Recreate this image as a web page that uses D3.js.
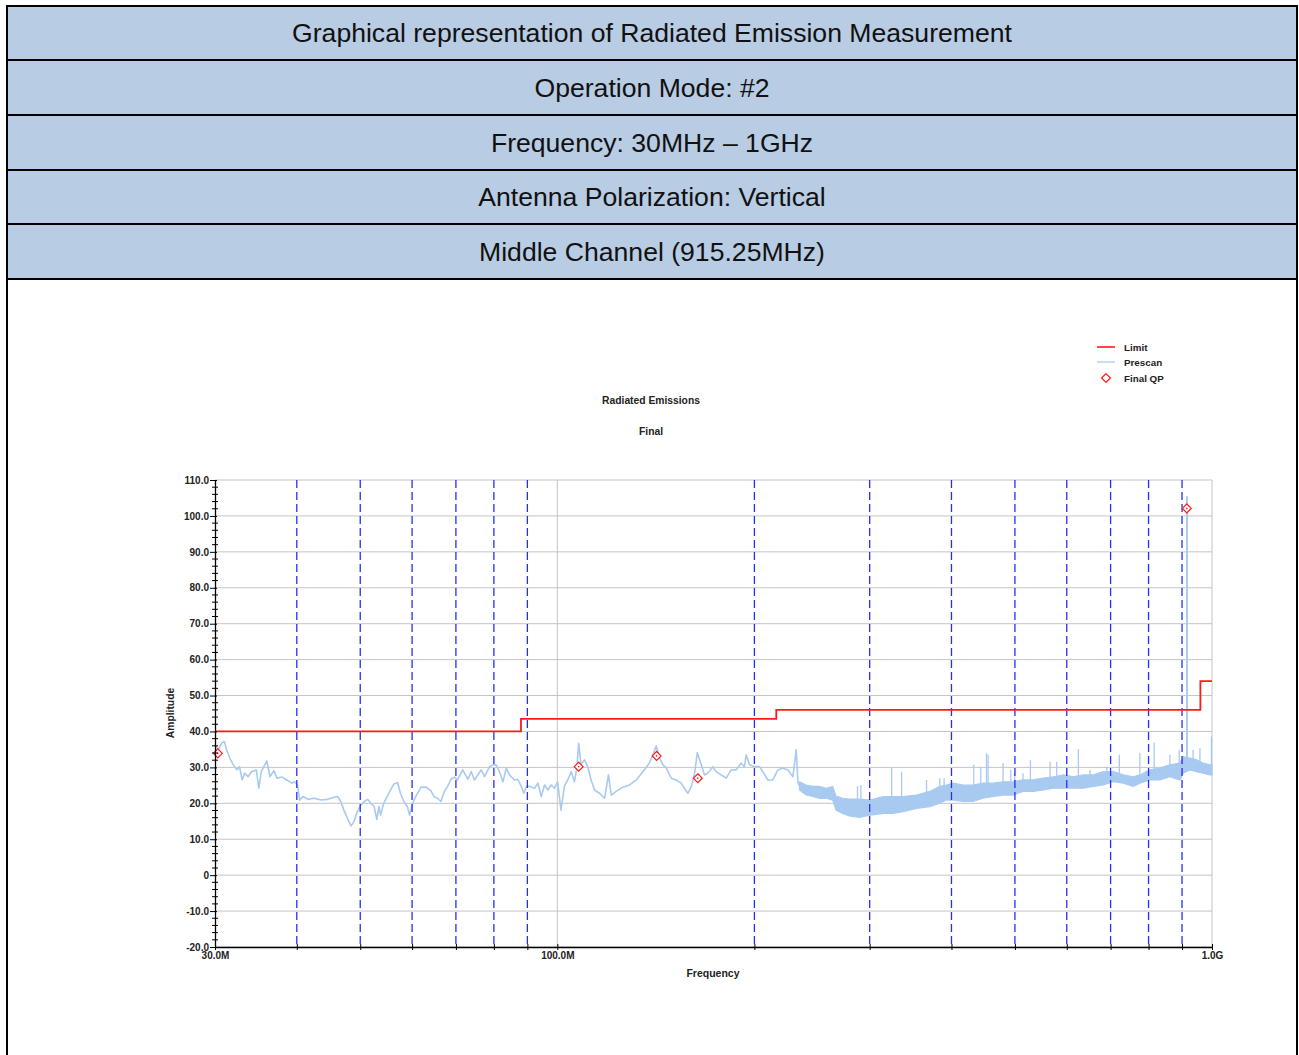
<!DOCTYPE html>
<html>
<head>
<meta charset="utf-8">
<script src="https://cdn.jsdelivr.net/npm/d3@7"></script>
<style>
  body { margin: 0; background: #fff; }
  svg { display: block; }
  text { font-family: "Liberation Sans", Arial, sans-serif; }
</style>
</head>
<body>
<svg id="chart" width="1299" height="1055"></svg>
<script>
// ---- header rows ----
const headerLines = [
  "Graphical representation of Radiated Emission Measurement",
  "Operation Mode: #2",
  "Frequency: 30MHz \u2013 1GHz",
  "Antenna Polarization: Vertical",
  "Middle Channel (915.25MHz)"
];

// ---- axis ticks ----
const yTickValues = [-20, -10, 0, 10, 20, 30, 40, 50, 60, 70, 80, 90, 100, 110];
const yTickLabels = ["-20.0", "-10.0", "0", "10.0", "20.0", "30.0", "40.0", "50.0", "60.0", "70.0", "80.0", "90.0", "100.0", "110.0"];
const xDashedMHz = [40, 50, 60, 70, 80, 90, 200, 300, 400, 500, 600, 700, 800, 900];
const xLabelMHz = [30, 100, 1000];
const xLabelText = ["30.0M", "100.0M", "1.0G"];

// ---- limit line (MHz, dBuV/m), step after each point ----
const limitMHz = [30, 88, 216, 960, 1000];
const limitDb  = [40, 43.5, 46, 54, 54];

// ---- final quasi-peak results ----
const qpMHz = [30.3, 107.8, 141.8, 163.9, 915.25];
const qpDb  = [33.9, 30.2, 33.2, 27.0, 102.1];

// ---- prescan: single trace below ~234 MHz ----
const prescanTrace = [
  [30.0,36.3],[30.35,34.9],[30.7,36.7],[31.0,37.2],[31.25,34.9],[31.6,32.6],[32.0,30.7],[32.4,29.3],[32.7,30.2],[33.0,26.5],
  [33.3,28.4],[33.7,27.4],[34.1,28.8],[34.7,29.3],[35.0,24.2],[35.3,28.8],[36.0,31.8],[36.4,27.4],[36.9,29.1],[37.3,27.0],
  [38.0,27.3],[38.6,26.5],[39.3,25.6],[39.7,26.0],[40.1,25.1],[40.4,20.9],[40.9,21.9],[41.6,21.1],[42.5,21.4],[43.6,20.9],
  [44.6,21.1],[45.6,21.7],[46.2,21.9],[46.7,20.5],[47.2,18.1],[47.8,15.8],[48.4,13.7],[48.9,14.9],[49.5,17.7],[50.1,19.5],
  [50.7,20.5],[51.3,21.1],[51.9,20.0],[52.5,19.1],[53.0,15.5],[53.4,19.1],[53.7,16.7],[54.3,20.0],[55.0,21.9],[55.6,23.7],
  [56.3,25.4],[57.0,25.8],[57.6,22.8],[58.3,20.5],[59.0,19.1],[59.5,16.7],[60.1,20.0],[60.8,21.9],[61.9,24.5],[63.0,24.5],
  [64.1,23.5],[64.8,21.9],[65.6,21.4],[66.4,20.5],[67.2,23.3],[68.0,24.7],[68.8,26.7],[69.6,27.3],[70.4,26.5],[71.7,29.3],
  [73.0,26.7],[73.9,28.8],[74.7,26.5],[75.6,27.9],[76.5,29.3],[77.4,27.4],[78.8,30.2],[79.7,30.7],[80.6,30.7],[81.6,28.8],
  [82.6,26.0],[83.6,29.8],[84.5,27.9],[86.0,26.5],[87.0,26.7],[88.1,24.7],[88.9,22.8],[89.7,24.7],[90.8,24.7],[92.3,24.2],
  [93.4,25.6],[94.5,21.9],[95.6,25.1],[96.7,23.7],[97.8,25.1],[99.0,24.2],[100.1,26.0],[101.3,18.1],[102.5,24.7],[103.7,26.5],
  [105.0,28.8],[106.2,26.0],[107.1,29.8],[107.8,36.7],[108.7,30.7],[110.0,32.1],[111.3,30.2],[112.6,26.5],[114.0,23.7],[116.0,22.8],
  [118.1,21.4],[119.7,27.9],[120.9,22.3],[123.0,23.3],[125.9,24.5],[129.0,25.1],[132.0,26.5],[135.1,28.8],[138.3,31.2],[140.3,34.0],
  [141.6,36.0],[143.3,32.6],[145.0,30.7],[146.7,29.8],[149.3,27.0],[151.9,26.5],[154.6,25.6],[156.4,24.2],[158.3,22.8],[160.2,24.7],
  [162.1,28.4],[163.6,34.1],[165.9,30.7],[167.8,27.9],[169.8,28.4],[172.8,30.2],[174.9,28.8],[177.9,27.9],[181.1,27.0],[184.3,29.3],
  [187.6,29.3],[190.9,31.2],[193.1,30.2],[194.3,33.5],[196.6,30.7],[200.1,30.2],[203.6,30.2],[206.0,28.8],[209.7,26.5],[213.4,26.5],
  [217.2,29.3],[221.0,29.8],[225.0,29.3],[229.0,27.4],[231.7,34.9],[233.1,25.6]
];

// ---- prescan: dense noise band above ~234 MHz (min / max envelope) ----
const prescanBandMHz = [234.4,240.0,245.6,251.4,257.4,263.4,266.5,272.8,279.2,289.1,
  300.3,314.7,325.9,337.5,353.7,370.6,383.9,393.0,402.3,416.7,
  431.5,447.0,463.0,479.6,496.7,514.4,533.4,552.6,572.4,592.9,
  614.1,636.2,658.9,682.5,706.9,732.2,758.1,775.9,803.7,832.4,
  862.3,893.1,903.5,924.9,946.8,969.2,992.0,1000];
const prescanBandHi = [26.0,25.1,24.7,24.7,24.2,24.7,22.0,21.4,21.2,21.2,
  20.9,21.9,21.9,21.9,22.3,23.3,24.7,25.1,25.6,25.1,
  25.1,25.6,25.6,26.0,26.0,26.5,26.5,27.0,27.4,27.9,
  27.4,27.9,27.9,28.8,28.8,27.9,27.4,27.9,29.3,29.8,
  30.7,31.2,33.0,32.6,32.1,31.2,30.7,30.7];
const prescanBandLo = [23.7,22.3,21.9,21.4,21.4,20.9,18.1,17.2,16.5,16.1,
  16.7,17.2,17.2,17.7,18.6,19.1,20.0,20.9,20.9,20.5,
  20.5,21.4,21.9,22.3,22.3,23.3,23.3,23.7,24.2,24.2,
  24.2,24.2,24.7,25.1,26.0,25.6,24.7,25.6,26.5,26.5,
  27.4,26.5,28.4,29.3,28.8,28.4,27.9,27.9];

// ---- prescan: narrow peaks rising out of the band (MHz, peak dB) ----
const prescanSpikes = [
  [287.4,24.8],[290.9,25.1],[324.1,29.8],[335.6,28.8],[366.4,26.5],[383.9,27.0],[389.8,27.0],[432.6,30.7],
  [443.4,30.2],[452.4,34.0],[455.0,33.5],[479.6,31.2],[492.7,29.3],[499.6,28.4],[514.4,28.4],[528.0,32.1],
  [565.8,31.6],[579.2,31.6],[600.0,30.2],[625.0,35.1],[651.3,29.3],[690.6,30.2],[721.9,33.5],[775.9,34.1],
  [815.9,36.9],[862.3,33.5],[891.0,34.9],[916.0,105.5],[935.8,34.9],[958.5,35.3],[998.0,38.6]
];

const legendItems = ["Limit", "Prescan", "Final QP"];

// ---- colours ----
const C_LIMIT = "#ff1a1a";
const C_PRESCAN = "#a9caf0";
const C_DASH = "#2b2bff";
const C_GRID = "#c4c4c4";
const C_HEADER = "#b8cce4";

const svg = d3.select("#chart");

// header table
const rowEdges = [6, 60, 115, 170, 224, 279];
const hdr = svg.append("g");
headerLines.forEach((t, i) => {
  hdr.append("rect")
    .attr("x", 7).attr("y", rowEdges[i])
    .attr("width", 1290).attr("height", rowEdges[i + 1] - rowEdges[i])
    .attr("fill", C_HEADER).attr("stroke", "#000").attr("stroke-width", 2);
  hdr.append("text")
    .attr("x", 652).attr("y", (rowEdges[i] + rowEdges[i + 1]) / 2 + 9)
    .attr("text-anchor", "middle")
    .attr("font-size", 26.6).attr("fill", "#111")
    .text(t);
});
// side borders of the chart cell
svg.append("line").attr("x1", 7).attr("x2", 7).attr("y1", 279).attr("y2", 1055)
  .attr("stroke", "#000").attr("stroke-width", 2);
svg.append("line").attr("x1", 1297).attr("x2", 1297).attr("y1", 279).attr("y2", 1055)
  .attr("stroke", "#000").attr("stroke-width", 2);

// scales
const x = d3.scaleLog().domain([30, 1000]).range([215, 1212]);
const y = d3.scaleLinear().domain([-20, 110]).range([947, 480]);

const plot = svg.append("g");

// horizontal grid
plot.append("g").selectAll("line").data(yTickValues).join("line")
  .attr("x1", x(30)).attr("x2", x(1000))
  .attr("y1", d => y(d)).attr("y2", d => y(d))
  .attr("stroke", C_GRID).attr("stroke-width", 1);
// 100 MHz and right edge grid
plot.append("g").selectAll("line").data([100, 1000]).join("line")
  .attr("x1", d => x(d)).attr("x2", d => x(d))
  .attr("y1", y(110)).attr("y2", y(-20))
  .attr("stroke", C_GRID).attr("stroke-width", 1);

// prescan band
const bandData = prescanBandMHz.map((f, i) => ({ f, lo: prescanBandLo[i], hi: prescanBandHi[i] }));
plot.append("path").datum(bandData)
  .attr("d", d3.area().x(d => x(d.f)).y0(d => y(d.lo)).y1(d => y(d.hi)))
  .attr("fill", C_PRESCAN).attr("stroke", C_PRESCAN).attr("stroke-width", 1.2);

// prescan trace
plot.append("path").datum(prescanTrace)
  .attr("d", d3.line().x(d => x(d[0])).y(d => y(d[1])))
  .attr("fill", "none").attr("stroke", C_PRESCAN).attr("stroke-width", 1.6)
  .attr("stroke-linejoin", "round");
// joint between trace and band
plot.append("line")
  .attr("x1", x(prescanTrace[prescanTrace.length - 1][0])).attr("y1", y(prescanTrace[prescanTrace.length - 1][1]))
  .attr("x2", x(bandData[0].f)).attr("y2", y((bandData[0].lo + bandData[0].hi) / 2))
  .attr("stroke", C_PRESCAN).attr("stroke-width", 1.6);

// prescan spikes, rising from the band floor
const bis = d3.bisector(d => d.f).left;
function bandLoAt(f) {
  const i = Math.max(1, Math.min(bandData.length - 1, bis(bandData, f)));
  const a = bandData[i - 1], b = bandData[i];
  const t = (Math.log(f) - Math.log(a.f)) / (Math.log(b.f) - Math.log(a.f));
  return a.lo + (b.lo - a.lo) * Math.max(0, Math.min(1, t));
}
plot.append("g").selectAll("line").data(prescanSpikes).join("line")
  .attr("x1", d => x(d[0])).attr("x2", d => x(d[0]))
  .attr("y1", d => y(bandLoAt(d[0]) + 1.5)).attr("y2", d => y(d[1]))
  .attr("stroke", C_PRESCAN)
  .attr("stroke-width", d => d[1] > 60 ? 2 : 1.3);

// dashed frequency markers
plot.append("g").selectAll("line").data(xDashedMHz).join("line")
  .attr("x1", d => x(d)).attr("x2", d => x(d))
  .attr("y1", y(110)).attr("y2", y(-20))
  .attr("stroke", C_DASH).attr("stroke-width", 1.3)
  .attr("stroke-dasharray", "8,4");

// limit line
const limitData = limitMHz.map((f, i) => [f, limitDb[i]]);
plot.append("path").datum(limitData)
  .attr("d", d3.line().curve(d3.curveStepAfter).x(d => x(d[0])).y(d => y(d[1])))
  .attr("fill", "none").attr("stroke", C_LIMIT).attr("stroke-width", 1.8);

// final QP markers
const diamond = d3.symbol().type(d3.symbolDiamond2).size(50);
const qp = plot.append("g").selectAll("g").data(qpMHz.map((f, i) => [f, qpDb[i]])).join("g")
  .attr("transform", d => `translate(${x(d[0])},${y(d[1])})`);
qp.append("path").attr("d", diamond).attr("fill", "#fff").attr("stroke", C_LIMIT).attr("stroke-width", 1.2);
qp.append("circle").attr("r", 0.8).attr("fill", C_LIMIT);

// y axis
const yAxis = svg.append("g").attr("transform", `translate(${x(30)},0)`)
  .call(d3.axisLeft(y).tickValues(yTickValues).tickFormat((d, i) => yTickLabels[i])
    .tickSize(5).tickPadding(1).tickSizeOuter(0));
yAxis.selectAll(".tick line").attr("x1", 2).attr("x2", -5);
yAxis.selectAll("text").attr("font-size", 10).attr("font-weight", "bold").attr("fill", "#222");
yAxis.select(".domain").attr("stroke-width", 1.3);
// minor ticks every 2 units
svg.append("g").selectAll("line")
  .data(d3.range(-20, 110, 2).filter(v => v % 10 !== 0)).join("line")
  .attr("x1", x(30) - 3).attr("x2", x(30) + 3)
  .attr("y1", d => y(d)).attr("y2", d => y(d))
  .attr("stroke", "#000").attr("stroke-width", 1);

// x axis
const xAxis = svg.append("g").attr("transform", `translate(0,${y(-20)})`)
  .call(d3.axisBottom(x).tickValues(xLabelMHz.concat(xDashedMHz))
    .tickFormat(d => { const i = xLabelMHz.indexOf(d); return i >= 0 ? xLabelText[i] : ""; })
    .tickSize(3).tickPadding(2).tickSizeOuter(0));
xAxis.selectAll(".tick line").attr("y1", -3);
xAxis.selectAll("text").attr("font-size", 10).attr("font-weight", "bold").attr("fill", "#222");
xAxis.select(".domain").attr("stroke-width", 1.3);

// titles
const bold = (sel, s) => sel.attr("font-size", s).attr("font-weight", "bold").attr("fill", "#222");
bold(svg.append("text").attr("x", 651).attr("y", 404).attr("text-anchor", "middle").text("Radiated Emissions"), 10.3);
bold(svg.append("text").attr("x", 651).attr("y", 435).attr("text-anchor", "middle").text("Final"), 10.3);
bold(svg.append("text").attr("x", 713).attr("y", 977).attr("text-anchor", "middle").text("Frequency"), 10.5);
bold(svg.append("text").attr("transform", "translate(174,713) rotate(-90)").attr("text-anchor", "middle").text("Amplitude"), 10.3);

// legend
const lg = svg.append("g");
const ly = [347, 362, 378];
lg.append("line").attr("x1", 1097).attr("x2", 1115).attr("y1", ly[0]).attr("y2", ly[0])
  .attr("stroke", C_LIMIT).attr("stroke-width", 1.6);
lg.append("line").attr("x1", 1097).attr("x2", 1115).attr("y1", ly[1]).attr("y2", ly[1])
  .attr("stroke", C_PRESCAN).attr("stroke-width", 1.3);
lg.append("path").attr("transform", `translate(1106,${ly[2]})`).attr("d", diamond)
  .attr("fill", "#fff").attr("stroke", C_LIMIT).attr("stroke-width", 1.2);
legendItems.forEach((t, i) => {
  bold(lg.append("text").attr("x", 1124).attr("y", ly[i] + 3.5).text(t), 9.8);
});
</script>
</body>
</html>
